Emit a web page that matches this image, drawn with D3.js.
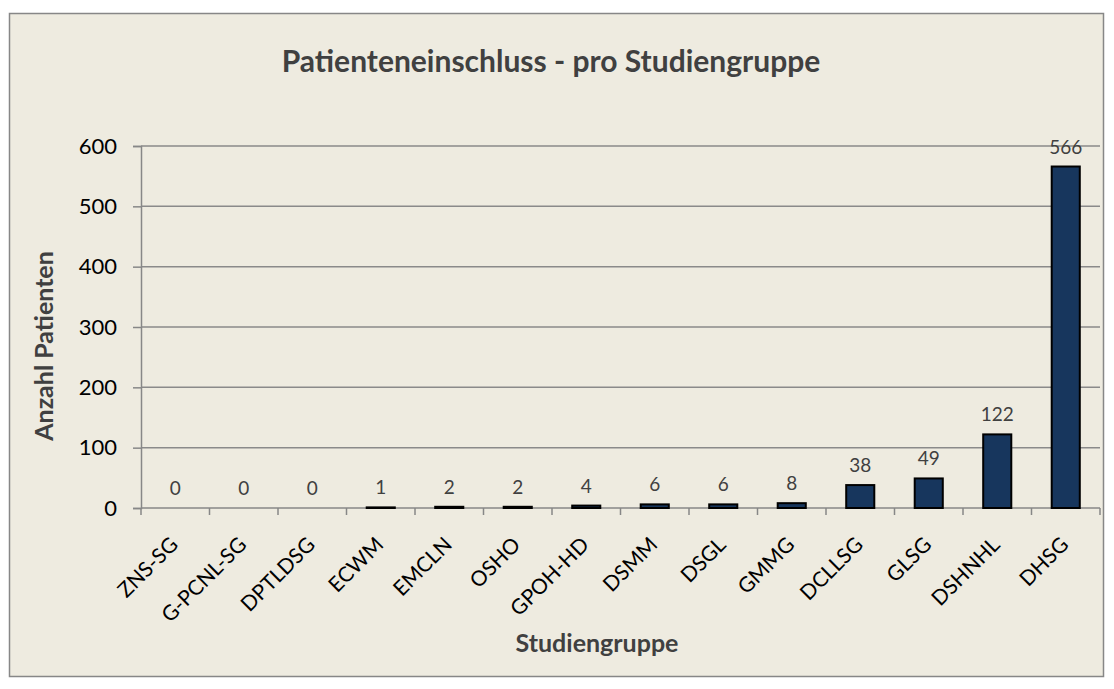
<!DOCTYPE html>
<html><head><meta charset="utf-8">
<script src="https://cdn.jsdelivr.net/npm/d3@7"></script>
<style>body{margin:0;background:#fff;}svg{display:block;font-family:Lato,"Open Sans",sans-serif;}</style>
</head><body>
<svg id="c" width="1114" height="689"></svg>
<script>
const categories = ["ZNS-SG","G-PCNL-SG","DPTLDSG","ECWM","EMCLN","OSHO","GPOH-HD","DSMM","DSGL","GMMG","DCLLSG","GLSG","DSHNHL","DHSG"];
const values = [0,0,0,1,2,2,4,6,6,8,38,49,122,566];
const yTicks = [0,100,200,300,400,500,600];
const title = "Patienteneinschluss - pro Studiengruppe";
const xTitle = "Studiengruppe";
const yTitle = "Anzahl Patienten";

const svg = d3.select("#c");
svg.append("rect").attr("x",9.5).attr("y",13.5).attr("width",1094).attr("height",663)
  .attr("fill","#EEEBE0").attr("stroke","#878787").attr("stroke-width",1.5);

const m = {l:141, r:1100, t:146, b:508};
const x = d3.scaleBand().domain(categories).range([m.l,m.r]).paddingInner(0.59).paddingOuter(0.295);
const xb = d3.scaleBand().domain(categories).range([m.l,m.r]);
const y = d3.scaleLinear().domain([0,600]).range([m.b,m.t]);

// gridlines
svg.append("g").selectAll("line").data(yTicks.filter(d=>d>0)).join("line")
  .attr("x1",m.l).attr("x2",m.r).attr("y1",d=>y(d)).attr("y2",d=>y(d))
  .attr("stroke","#8A8A8A").attr("stroke-width",1.5);

// y axis
const ya = svg.append("g").attr("transform",`translate(${m.l},0)`)
  .call(d3.axisLeft(y).tickValues(yTicks).tickSize(8).tickPadding(16));
ya.select(".domain").attr("stroke","#878787").attr("stroke-width",1.5);
ya.selectAll(".tick line").attr("stroke","#878787").attr("stroke-width",1.5);
ya.selectAll("text").attr("font-size",22).attr("fill","#000").attr("font-family","Lato");

// x axis
const xa = svg.append("g").attr("transform",`translate(0,${m.b})`);
xa.append("line").attr("x1",m.l).attr("x2",m.r).attr("stroke","#878787").attr("stroke-width",1.5);
xa.selectAll("line.t").data(categories.concat(["__end"])).join("line").attr("class","t")
  .attr("x1",(d,i)=> i<categories.length ? xb(d) : m.r)
  .attr("x2",(d,i)=> i<categories.length ? xb(d) : m.r)
  .attr("y1",0).attr("y2",7).attr("stroke","#878787").attr("stroke-width",1.5);

// bars
svg.append("g").selectAll("rect").data(values).join("rect")
  .attr("x",(d,i)=>x(categories[i])).attr("width",x.bandwidth())
  .attr("y",d=>y(d)).attr("height",d=>y(0)-y(d))
  .attr("fill","#17365D").attr("stroke","#000").attr("stroke-width",2);

// value labels
svg.append("g").selectAll("text").data(values).join("text")
  .attr("x",(d,i)=>xb(categories[i])+xb.bandwidth()/2)
  .attr("y",d=>y(d)-13).attr("text-anchor","middle")
  .attr("font-size",19).attr("fill","#404040").text(d=>d);

// x labels
svg.append("g").selectAll("text").data(categories).join("text")
  .attr("transform",d=>`translate(${xb(d)+xb.bandwidth()/2+4},${m.b+38}) rotate(-45)`)
  .attr("text-anchor","end").attr("font-size",21).attr("fill","#000").text(d=>d);

// titles
svg.append("text").attr("x",551).attr("y",72).attr("text-anchor","middle")
  .attr("font-size",30).attr("font-weight","bold").attr("fill","#404040").text(title);
svg.append("text").attr("x",597).attr("y",652).attr("text-anchor","middle")
  .attr("font-size",25).attr("font-weight","bold").attr("fill","#404040").text(xTitle);
svg.append("text").attr("transform","translate(53,346) rotate(-90)").attr("text-anchor","middle")
  .attr("font-size",25).attr("font-weight","bold").attr("fill","#404040").text(yTitle);
</script>
</body></html>
